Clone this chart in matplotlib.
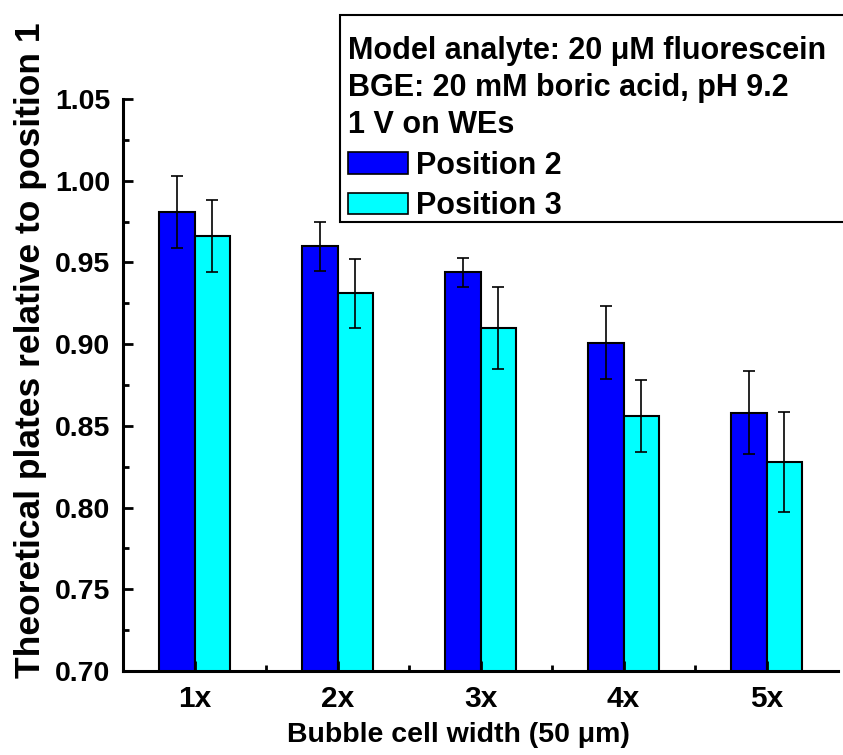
import numpy as np
import matplotlib
matplotlib.use("Agg")
import matplotlib.pyplot as plt
from matplotlib.patches import Patch, Rectangle
from matplotlib.ticker import MultipleLocator, FixedLocator, FormatStrFormatter

plt.rcParams['font.family'] = ['Liberation Sans', 'DejaVu Sans']
plt.rcParams['font.weight'] = 'bold'

# data
categories = ['1x', '2x', '3x', '4x', '5x']
pos2 = [0.981, 0.960, 0.944, 0.901, 0.858]
pos2_err = [0.022, 0.015, 0.009, 0.0225, 0.0255]
pos3 = [0.966, 0.931, 0.910, 0.856, 0.828]
pos3_err = [0.022, 0.021, 0.025, 0.022, 0.0305]
legend_lines = ['Model analyte: 20 \u03bcM fluorescein',
                'BGE: 20 mM boric acid, pH 9.2',
                '1 V on WEs']

W, H = 843, 755
fig = plt.figure(figsize=(W/100, H/100), dpi=100)
ax = fig.add_axes([123/W, 1 - 671/H, (838 - 123)/W, (671 - 99)/H])

x = np.arange(1, len(categories) + 1)
w = 0.25
err_kw = dict(ecolor='black', elinewidth=1.2, capsize=4, capthick=1.2)
ax.bar(x - w/2, pos2, w, yerr=pos2_err, color='#0000ff', edgecolor='black',
       linewidth=1.5, error_kw=err_kw, label='Position 2')
ax.bar(x + w/2, pos3, w, yerr=pos3_err, color='#00ffff', edgecolor='black',
       linewidth=1.5, error_kw=err_kw, label='Position 3')

ax.set_xlim(0.5, 5.5)
ax.set_ylim(0.70, 1.05)
ax.set_xticks(x)
ax.set_xticklabels(categories)
ax.xaxis.set_minor_locator(FixedLocator(x[:-1] + 0.5))
ax.yaxis.set_major_locator(MultipleLocator(0.05))
ax.yaxis.set_minor_locator(MultipleLocator(0.025))
ax.yaxis.set_major_formatter(FormatStrFormatter('%.2f'))

for s in ['top', 'right']:
    ax.spines[s].set_visible(False)
for s in ['left', 'bottom']:
    ax.spines[s].set_linewidth(2.2)
ax.tick_params(which='major', direction='in', length=7, width=2)
ax.tick_params(which='minor', direction='in', length=4, width=2)
ax.tick_params(axis='y', labelsize=20.5, pad=9)
ax.tick_params(axis='x', labelsize=21.5, pad=10)

ax.set_xlabel('Bubble cell width (50 \u03bcm)', fontsize=20.5, fontweight='bold')
ax.xaxis.set_label_coords(0.4685, -0.09)
ax.set_ylabel('Theoretical plates relative to position 1', fontsize=25.5,
              fontweight='bold')
ax.yaxis.set_label_coords(-0.106, 0.561)

# legend box (frame drawn separately so the text sits like the original)
fig.patches.append(Rectangle((340/W, 1 - 222/H), 520/W, 207/H,
                             transform=fig.transFigure, facecolor='white',
                             edgecolor='black', linewidth=1.5, zorder=2))
handles = [Patch(facecolor='#0000ff', edgecolor='black', linewidth=1.2),
           Patch(facecolor='#00ffff', edgecolor='black', linewidth=1.2)]
leg = fig.legend(handles, ['Position 2', 'Position 3'],
                 title='\n'.join(legend_lines),
                 loc='upper left', bbox_to_anchor=(348/W, 1 - 36/H),
                 fontsize=22, title_fontproperties={'size': 22, 'weight': 'bold'},
                 alignment='left', frameon=False,
                 handlelength=1.95, handleheight=0.7,
                 handletextpad=0.28, labelspacing=0.34, borderpad=0,
                 borderaxespad=0)
leg.set_zorder(5)
leg.get_title().set_linespacing(1.31)

fig.savefig('out.png', dpi=100)
